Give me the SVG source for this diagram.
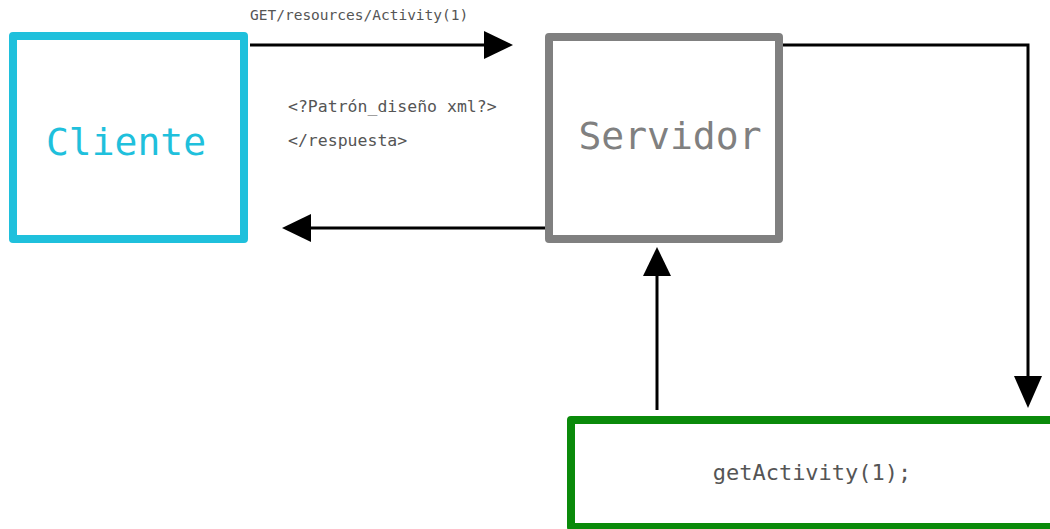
<svg xmlns="http://www.w3.org/2000/svg" width="1050" height="529" viewBox="0 0 1050 529">
<style>
.box{fill:#fff;stroke-width:8;stroke-linejoin:round}
.mono{font-family:"DejaVu Sans Mono","Liberation Mono",monospace}
.conn{stroke:#000;stroke-width:3;fill:none}
.head{fill:#000}
</style>
<rect width="1050" height="529" fill="#fff"/>
<g id="cliente">
<rect class="box" x="13" y="36" width="231" height="203" stroke="#1FC0DC"/>
<text class="mono" x="126" y="155" font-size="38" fill="#1FC0DC" text-anchor="middle">Cliente</text>
</g>
<g id="servidor">
<rect class="box" x="549" y="37" width="230" height="202" stroke="#808080"/>
<text class="mono" x="670" y="149" font-size="38" fill="#808080" text-anchor="middle">Servidor</text>
</g>
<g id="getactivity">
<rect class="box" x="571" y="420" width="500" height="107" stroke="#0A8A0A"/>
<text class="mono" x="812" y="480" font-size="22" fill="#555" text-anchor="middle">getActivity(1);</text>
</g>
<g id="connectors">
<line class="conn" x1="250" y1="45" x2="490" y2="45"/>
<polygon class="head" points="484,31 513,45 484,59"/>
<line class="conn" x1="545" y1="228" x2="305" y2="228"/>
<polygon class="head" points="311,214 282,228 311,242"/>
<polyline class="conn" points="783,45 1028,45 1028,380"/>
<polygon class="head" points="1014,376 1042,376 1028,408"/>
<line class="conn" x1="657" y1="410" x2="657" y2="272"/>
<polygon class="head" points="643,276 657,247 671,276"/>
</g>
<g id="labels">
<text class="mono" x="250" y="20" font-size="14.5" fill="#555">GET/resources/Activity(1)</text>
<text class="mono" x="288" y="112" font-size="16.5" fill="#555">&lt;?Patrón_diseño xml?&gt;</text>
<text class="mono" x="288" y="146" font-size="16.5" fill="#555">&lt;/respuesta&gt;</text>
</g>
</svg>
